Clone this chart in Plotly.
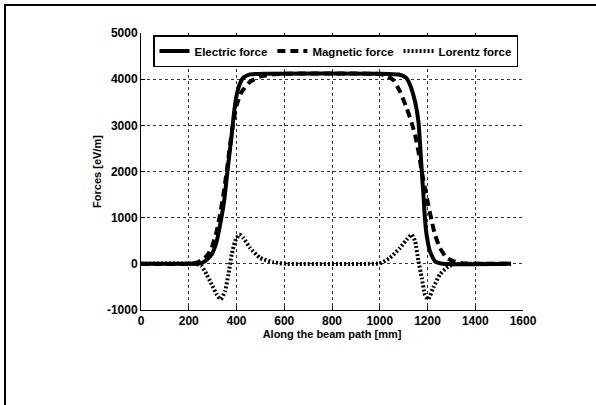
import plotly.graph_objects as go

# Electric force
x_electric = [0, 200, 250, 268, 296, 317, 334, 348, 359, 370, 380, 387, 398, 412, 428, 457, 526,
              1000, 1080, 1110, 1127, 1148, 1162, 1169, 1176, 1183, 1189, 1196, 1210, 1231, 1266, 1550]
y_electric = [0, 0, 10, 58, 202, 490, 922, 1354, 1857, 2362, 2795, 3153, 3585, 3875, 4032, 4104, 4120,
              4120, 4100, 4030, 3875, 3510, 3082, 2579, 2002, 1499, 994, 635, 274, 58, 0, 0]

# Magnetic force
x_magnetic = [0, 200, 240, 275, 296, 317, 331, 345, 359, 373, 387, 401, 422, 457, 498, 554, 620,
              950, 1000, 1030, 1057, 1085, 1113, 1134, 1148, 1162, 1176, 1189, 1203, 1218, 1231, 1252,
              1280, 1308, 1350, 1550]
y_magnetic = [0, 0, 40, 166, 346, 706, 1066, 1499, 2002, 2579, 3082, 3443, 3730, 3946, 4054, 4104, 4120,
              4120, 4110, 4070, 3980, 3730, 3370, 3045, 2795, 2434, 2002, 1641, 1283, 922, 635, 346,
              130, 58, 10, 0]

# Lorentz force
x_lorentz = [0, 230, 254, 275, 296, 317, 334, 352, 366, 380, 394, 412, 428, 457, 498, 554, 610,
             950, 1000, 1043, 1085, 1113, 1134, 1148, 1162, 1176, 1189, 1203, 1224, 1252, 1280, 1308,
             1350, 1550]
y_lorentz = [0, 0, -50, -230, -446, -662, -770, -590, -230, 202, 490, 635, 562, 346, 130, 36, 0,
             0, 10, 130, 346, 527, 635, 490, 58, -302, -662, -770, -518, -230, -86, -10,
             0, 0]

x_ticks = [0, 200, 400, 600, 800, 1000, 1200, 1400, 1600]
y_ticks = [-1000, 0, 1000, 2000, 3000, 4000, 5000]

FONT = "Liberation Sans, Arial, sans-serif"

fig = go.Figure()
fig.add_trace(go.Scatter(x=x_electric, y=y_electric, mode="lines", name="<b>Electric force</b>",
                         line=dict(color="black", width=4, shape="spline", smoothing=0.5)))
fig.add_trace(go.Scatter(x=x_magnetic, y=y_magnetic, mode="lines", name="<b>Magnetic force</b>",
                         line=dict(color="black", width=4, dash="8px,5px", shape="spline", smoothing=0.5)))
fig.add_trace(go.Scatter(x=x_lorentz, y=y_lorentz, mode="lines", name="<b>Lorentz force</b>",
                         line=dict(color="black", width=4, dash="2px,2px", shape="spline", smoothing=0.5)))

L, R, T, B = 141, 73, 33, 95
W, H = 596, 405
pw, ph = W - L - R, H - T - B

def px2x(px):
    return (px - L) / pw

def py2y(py):
    return 1 - (py - T) / ph

axis_common = dict(
    showgrid=True, gridcolor="#333333", gridwidth=1, griddash="dot",
    zeroline=False, showline=True, linecolor="black", linewidth=1,
    ticks="inside", ticklen=4, tickcolor="black", tickwidth=1,
    tickfont=dict(family=FONT, size=12, color="black", weight="bold"),
    mirror=False,
)

fig.update_xaxes(range=[0, 1600], tickvals=x_ticks, ticktext=[str(v) for v in x_ticks],
                 title=dict(text="<b>Along the beam path [mm]</b>", standoff=1,
                            font=dict(family=FONT, size=11, color="black")),
                 **axis_common)
fig.update_yaxes(range=[-1000, 5000], tickvals=y_ticks, ticktext=[str(v) for v in y_ticks],
                 title=dict(text="<b>Forces [eV/m]</b>", standoff=3,
                            font=dict(family=FONT, size=11, color="black")),
                 **axis_common)

fig.update_layout(
    width=W, height=H,
    margin=dict(l=L, r=R, t=T, b=B, pad=0),
    paper_bgcolor="white", plot_bgcolor="white",
    font=dict(family=FONT, size=11, color="black"),
    legend=dict(orientation="h", x=px2x(518), xanchor="right", y=py2y(35), yanchor="top",
                bgcolor="white", bordercolor="black", borderwidth=1.5,
                font=dict(family=FONT, size=11.5, color="black"),
                itemwidth=30, tracegroupgap=0),
    showlegend=True,
    shapes=[
        dict(type="line", xref="paper", yref="paper", x0=px2x(5), x1=px2x(600),
             y0=py2y(5), y1=py2y(5), line=dict(color="black", width=2)),
        dict(type="line", xref="paper", yref="paper", x0=px2x(5), x1=px2x(5),
             y0=py2y(4), y1=py2y(410), line=dict(color="black", width=2)),
    ],
)

fig.write_html("out.html")
